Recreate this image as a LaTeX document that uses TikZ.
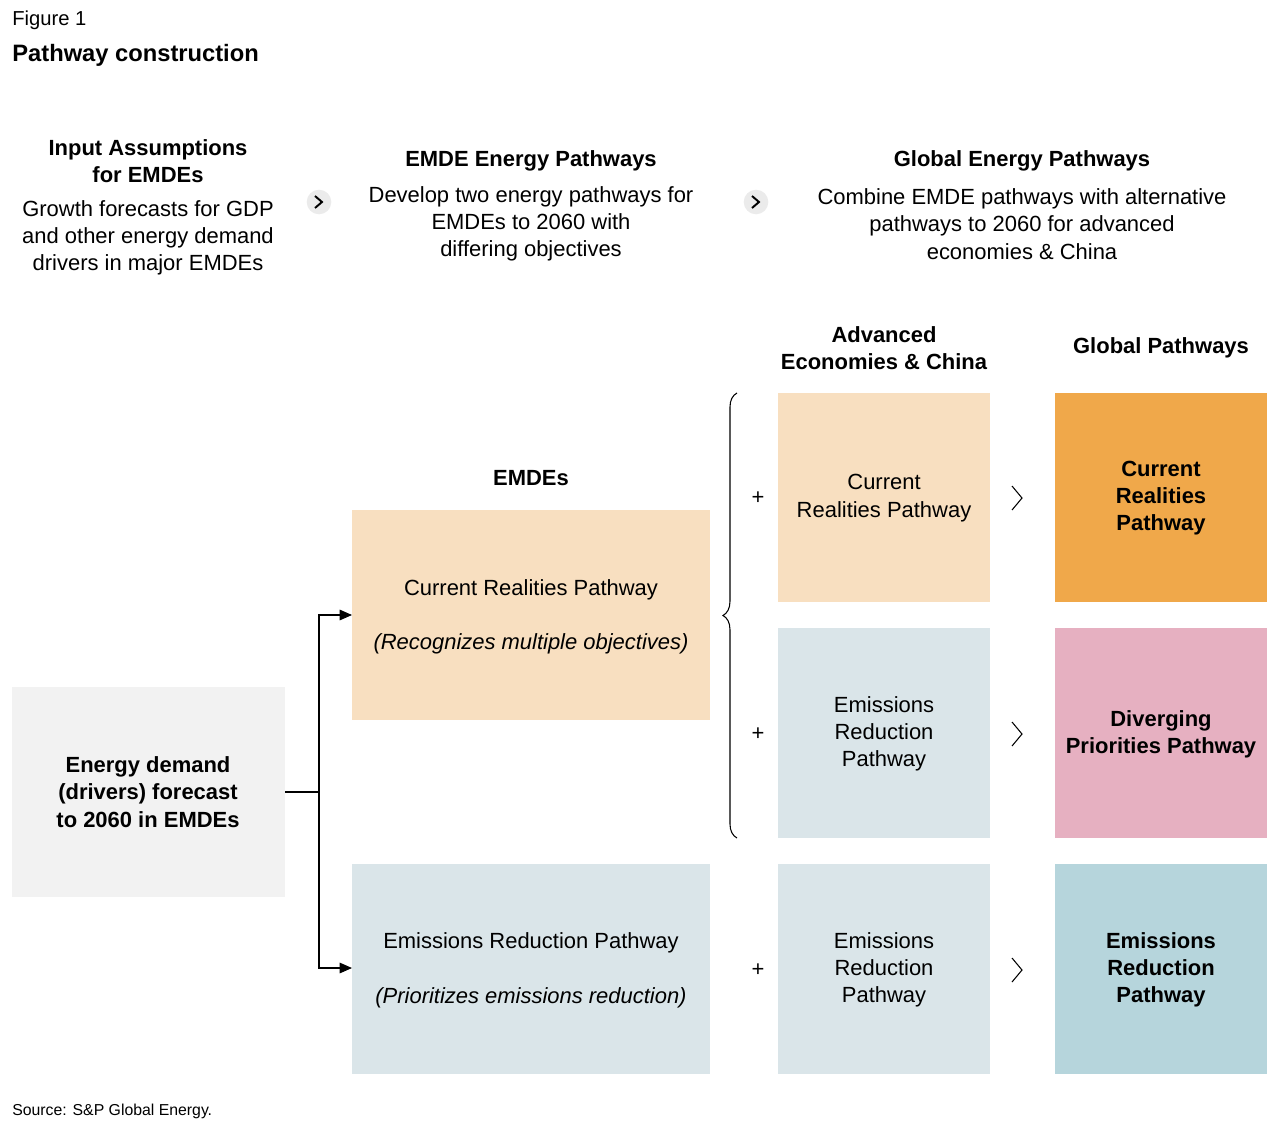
\documentclass[tikz,border=0pt]{standalone}
\usepackage{fontspec}
\setmainfont{Liberation Sans}
\usetikzlibrary{decorations.pathreplacing,arrows.meta}
\definecolor{peach}{HTML}{F8DFC0}
\definecolor{ltblue}{HTML}{DAE5E9}
\definecolor{ltgrey}{HTML}{F2F2F2}
\definecolor{orng}{HTML}{F0A84A}
\definecolor{pink}{HTML}{E6B0C1}
\definecolor{tblue}{HTML}{B6D5DC}
\begin{document}
\begin{tikzpicture}[x=0.02cm,y=-0.02cm,
  txt/.style={font=\fontsize{12.5}{15.5}\selectfont,align=center,inner sep=0},
  hd/.style={font=\fontsize{12.5}{15.5}\selectfont\bfseries,align=center,inner sep=0},
  box/.style={minimum width=#1,draw=none,inner sep=0,anchor=north west},
  chev/.style={circle,fill=black!8,minimum size=14pt,inner sep=0},
  con/.style={line width=0.6pt}]
\useasboundingbox (0,0) rectangle (1280,1132);
\node[anchor=west,inner sep=0,font=\fontsize{11.5}{14}\selectfont] (fig) at (12,20) {Figure 1};
\node[anchor=west,inner sep=0,font=\fontsize{13.5}{16}\selectfont\bfseries] (title) at (12,55) {Pathway construction};
% headers
\node[hd] (h1) at (148,161) {Input Assumptions\\for EMDEs};
\node[txt] (t1) at (148,238) {Growth forecasts for GDP\\and other energy demand\\drivers in major EMDEs};
\node[hd] (h2) at (531,161) {EMDE Energy Pathways};
\node[txt] (t2) at (531,224) {Develop two energy pathways for\\EMDEs to 2060 with\\differing objectives};
\node[hd] (h3) at (1022,161) {Global Energy Pathways};
\node[txt] (t3) at (1022,224) {Combine EMDE pathways with alternative\\pathways to 2060 for advanced\\economies \& China};
\node[chev] (c1) at (319,202) {};
\draw[con,line width=1.1pt] (315,196) -- (322,202) -- (315,208);
\node[chev] (c2) at (756,202) {};
\draw[con,line width=1.1pt] (752,196) -- (759,202) -- (752,208);
\node[hd] (h4) at (884,348) {Advanced\\Economies \& China};
\node[hd] (h5) at (1161,348) {Global Pathways};
\node[hd] (h6) at (531,478) {EMDEs};
% boxes
\fill[ltgrey] (12,687) rectangle (285,897);
\node[hd] (ed) at (148,792) {Energy demand\\(drivers) forecast\\to 2060 in EMDEs};
\fill[peach] (352,510) rectangle (710,720);
\node[txt] (e1) at (531,590) {Current Realities Pathway};
\node[txt,font=\fontsize{12.5}{15.5}\selectfont\itshape] (e1b) at (531,644) {(Recognizes multiple objectives)};
\fill[ltblue] (352,864) rectangle (710,1074);
\node[txt] (e2) at (531,943) {Emissions Reduction Pathway};
\node[txt,font=\fontsize{12.5}{15.5}\selectfont\itshape] (e2b) at (531,998) {(Prioritizes emissions reduction)};
\coordinate (a1) at (352,615);
\coordinate (a2) at (352,968);
\fill[peach] (778,393) rectangle (990,602);
\node[txt] (ad1) at (884,498) {Current\\Realities Pathway};
\fill[ltblue] (778,628) rectangle (990,838);
\node[txt] (ad2) at (884,734) {Emissions\\Reduction\\Pathway};
\fill[ltblue] (778,864) rectangle (990,1074);
\node[txt] (ad3) at (884,970) {Emissions\\Reduction\\Pathway};
\fill[orng] (1055,393) rectangle (1267,602);
\node[hd] (g1) at (1161,498) {Current\\Realities\\Pathway};
\fill[pink] (1055,628) rectangle (1267,838);
\node[hd] (g2) at (1161,734) {Diverging\\Priorities Pathway};
\fill[tblue] (1055,864) rectangle (1267,1074);
\node[hd] (g3) at (1161,970) {Emissions\\Reduction\\Pathway};
% connectors
\coordinate (edr) at (285,792);
\coordinate (j) at (319,792);
\draw[con] (edr) -- (j);
\draw[con,-{Triangle[length=7pt,width=6pt]}] (j) |- (a1);
\draw[con,-{Triangle[length=7pt,width=6pt]}] (j) |- (a2);
\draw[con,decorate,decoration={brace,amplitude=8pt}] (737,838) -- (737,393);
\foreach \y in {498,734,970}{
  \node[txt] at (758,\y) {+};
  \draw[con] (1012,\y-12) -- (1022,\y) -- (1012,\y+12);
}
\node[anchor=west,inner sep=0,font=\fontsize{9}{11}\selectfont] (src) at (12,1111) {Source: S\&P Global Energy.};
\end{tikzpicture}
\end{document}
